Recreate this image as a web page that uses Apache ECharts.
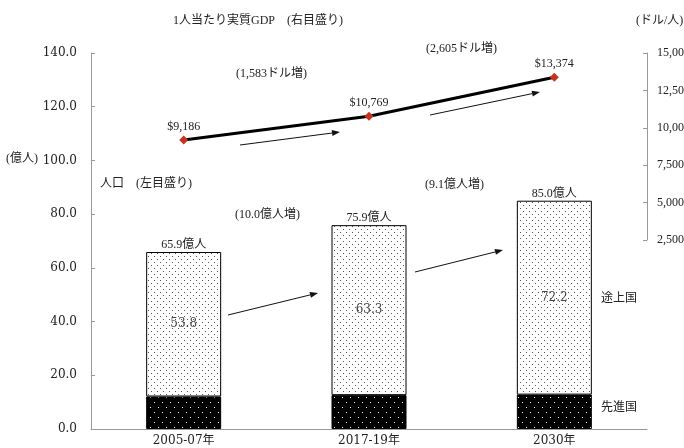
<!DOCTYPE html>
<html>
<head>
<meta charset="utf-8">
<script src="https://cdn.jsdelivr.net/npm/echarts@6/dist/echarts.min.js"></script>
<style>
  html, body { margin: 0; padding: 0; background: #fff; }
  #chart { width: 684px; height: 448px; }
</style>
</head>
<body>
<div id="chart"></div>
<script>
// data
const categories = ['2005-07年', '2017-19年', '2030年'];
const developed = [12.1, 12.6, 12.8];    // 先進国
const developing = [53.8, 63.3, 72.2];   // 途上国
const totals = [65.9, 75.9, 85.0];
const gdpPerCapita = [9186, 10769, 13374];
const leftTicks = { min: 0, max: 140, interval: 20 };
const rightTicks = { min: 2500, max: 15000, interval: 2500 };

const FONT = '"Liberation Serif", "Noto Sans CJK JP", serif';
const NUMFONT = '"DejaVu Serif", "Noto Sans CJK JP", serif';
const TEXT = '#222';

function makePattern(w, h, bg, fg, dots) {
  let c = document.createElement('canvas');
  c.width = w;
  c.height = h;
  let ctx = c.getContext('2d');
  ctx.fillStyle = bg;
  ctx.fillRect(0, 0, w, h);
  ctx.fillStyle = fg;
  dots.forEach(function (d) { ctx.fillRect(d[0], d[1], 1, 1); });
  return { image: c, repeat: 'repeat' };
}

let lightDots = makePattern(6, 6, '#ffffff', '#555555', [[1, 1], [4, 4]]);
let darkDots = makePattern(8, 10, '#000000', '#ffffff', [[2, 2], [6, 7]]);

function arrow(x1, y1, x2, y2, width) {
  let a = Math.atan2(y2 - y1, x2 - x1);
  let len = 8, half = 3;
  let bx = x2 - len * Math.cos(a), by = y2 - len * Math.sin(a);
  return {
    type: 'group',
    children: [
      { type: 'line', shape: { x1: x1, y1: y1, x2: bx, y2: by }, style: { stroke: '#111', lineWidth: width } },
      { type: 'polygon', shape: { points: [[x2, y2],
        [bx + half * Math.sin(a), by - half * Math.cos(a)],
        [bx - half * Math.sin(a), by + half * Math.cos(a)]] }, style: { fill: '#111' } }
    ]
  };
}

function note(x, y, text) {
  return { type: 'text', x: x, y: y, style: { text: text, font: '12px ' + FONT, fill: TEXT } };
}

let myChart = echarts.init(document.getElementById('chart'));
let option = {
  animation: false,
  backgroundColor: '#fff',
  textStyle: { fontFamily: FONT },
  grid: [
    { left: 91, right: 37, top: 53, bottom: 19, outerBoundsMode: 'none', containLabel: false },
    { left: 91, right: 37, top: 53, bottom: 208, outerBoundsMode: 'none', containLabel: false }
  ],
  xAxis: [
    {
      type: 'category', data: categories, gridIndex: 0,
      axisLine: { lineStyle: { color: '#999' } },
      axisTick: { show: false },
      axisLabel: { color: TEXT, fontSize: 12, margin: 6, fontFamily: NUMFONT }
    },
    { type: 'category', data: categories, gridIndex: 1, show: false }
  ],
  yAxis: [
    {
      type: 'value', gridIndex: 0, min: leftTicks.min, max: leftTicks.max, interval: leftTicks.interval,
      splitLine: { show: false },
      axisLine: { show: true, lineStyle: { color: '#999' } },
      axisTick: { show: true, inside: true, length: 4, lineStyle: { color: '#999' } },
      axisLabel: { color: TEXT, fontSize: 12, margin: 14, fontFamily: NUMFONT,
        formatter: function (v) { return v.toFixed(1); } }
    },
    {
      type: 'value', gridIndex: 1, position: 'right',
      min: rightTicks.min, max: rightTicks.max, interval: rightTicks.interval,
      splitLine: { show: false },
      axisLine: { show: true, lineStyle: { color: '#999' } },
      axisTick: { show: true, inside: true, length: 4, lineStyle: { color: '#999' } },
      axisLabel: { color: TEXT, fontSize: 12, margin: 10, fontFamily: FONT,
        formatter: function (v) { return v.toLocaleString('en-US'); } }
    }
  ],
  series: [
    {
      name: '先進国', type: 'bar', stack: 'pop', barWidth: 75,
      xAxisIndex: 0, yAxisIndex: 0, data: developed,
      itemStyle: { color: darkDots, borderColor: '#000', borderWidth: 1 }
    },
    {
      name: '途上国', type: 'bar', stack: 'pop', barWidth: 75,
      xAxisIndex: 0, yAxisIndex: 0, data: developing,
      itemStyle: { color: lightDots, borderColor: '#000', borderWidth: 1 },
      label: { show: true, position: 'inside', color: '#444', fontSize: 12, fontFamily: NUMFONT,
        formatter: function (p) { return p.value.toFixed(1); } }
    },
    {
      name: '合計', type: 'bar', stack: 'pop', barWidth: 75,
      xAxisIndex: 0, yAxisIndex: 0, data: totals.map(function () { return 0; }),
      itemStyle: { color: 'transparent' },
      label: { show: true, position: 'top', distance: 1, color: TEXT, fontSize: 12, fontFamily: FONT,
        formatter: function (p) { return totals[p.dataIndex].toFixed(1) + '億人'; } }
    },
    {
      name: '1人当たり実質GDP', type: 'line', xAxisIndex: 1, yAxisIndex: 1, data: gdpPerCapita,
      lineStyle: { color: '#000', width: 3 },
      symbol: 'diamond', symbolSize: 9,
      itemStyle: { color: '#c8321e' },
      label: { show: true, position: 'top', distance: 3, color: TEXT, fontSize: 12, fontFamily: FONT,
        formatter: function (p) { return '$' + p.value.toLocaleString('en-US'); } }
    }
  ],
  graphic: [
    note(173, 15, '1人当たり実質GDP　(右目盛り)'),
    note(636, 15, '(ドル/人)'),
    note(6, 153, '(億人)'),
    note(100, 178, '人口　(左目盛り)'),
    note(236, 68, '(1,583ドル増)'),
    note(426, 43, '(2,605ドル増)'),
    note(235, 209, '(10.0億人増)'),
    note(425, 179, '(9.1億人増)'),
    note(601, 293, '途上国'),
    note(601, 402, '先進国'),
    arrow(240, 145, 340, 132, 1),
    arrow(430, 115, 540, 92, 1),
    arrow(228, 315, 318, 293, 1),
    arrow(415, 272, 503, 250, 1)
  ]
};
myChart.setOption(option);
</script>
</body>
</html>
